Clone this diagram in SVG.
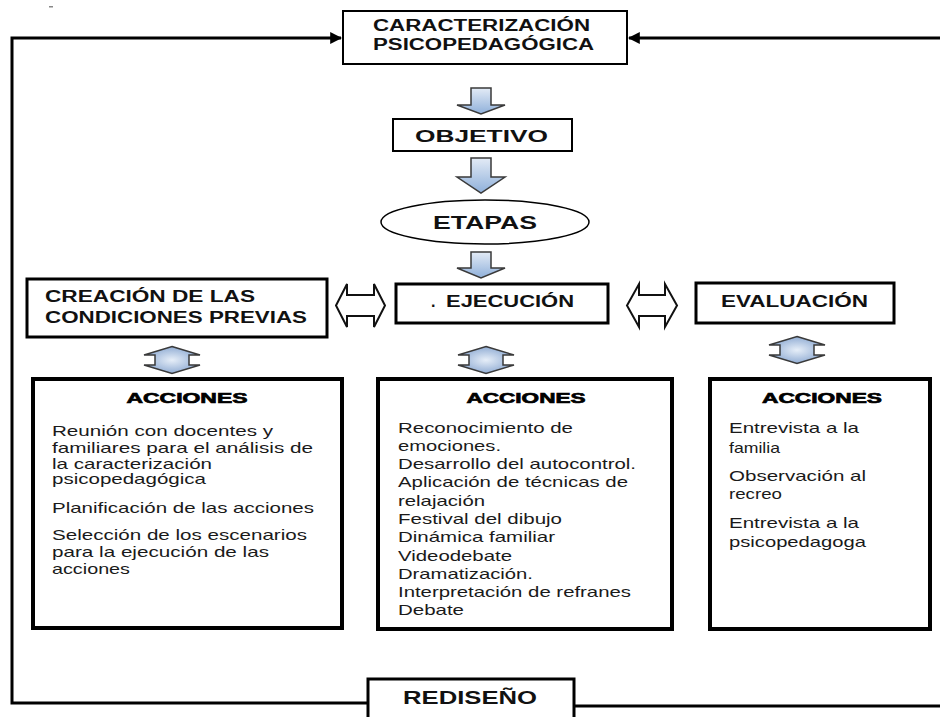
<svg xmlns="http://www.w3.org/2000/svg" width="940" height="717" viewBox="0 0 940 717">
<defs>
<linearGradient id="blue" x1="0" y1="0" x2="0" y2="1">
<stop offset="0" stop-color="#e3ebf6"/>
<stop offset="1" stop-color="#8fb0da"/>
</linearGradient>
<radialGradient id="blue2" cx="0.5" cy="0.5" r="0.6">
<stop offset="0" stop-color="#e6eef8"/>
<stop offset="1" stop-color="#7f9fcc"/>
</radialGradient>
<marker id="ah" viewBox="0 0 10 10" refX="9" refY="5" markerWidth="4" markerHeight="4" orient="auto" markerUnits="strokeWidth">
<path d="M0,0 L10,5 L0,10 Z" fill="#000"/>
</marker>
</defs>
<style>
.box{fill:#fff;stroke:#000}
.t{font-family:"Liberation Sans",Arial,sans-serif;font-weight:bold;fill:#111}
.h{font-family:"Liberation Sans",Arial,sans-serif;font-weight:900;font-size:15px;fill:#000;stroke:#000;stroke-width:0.7;text-anchor:middle}
.l{font-family:"Liberation Sans",Arial,sans-serif;font-size:14.5px;fill:#1a1a1a}
.down{fill:url(#blue);stroke:#3a3a3a;stroke-width:1.5}
.ud{fill:url(#blue2);stroke:#3a3a3a;stroke-width:1.5}
.lr{fill:#fff;stroke:#111;stroke-width:2}
.ln{fill:none;stroke:#000;stroke-width:3}
</style>
<rect width="940" height="717" fill="#fff"/>
<rect x="49" y="6" width="4" height="1.5" fill="#888"/>

<g id="connectors">
<path class="ln" d="M368,703 H12 V38 H341" marker-end="url(#ah)"/>
<path class="ln" d="M574,706 H940"/>
<path class="ln" d="M940,38 H629" marker-end="url(#ah)"/>
<path class="down" d="M471,88 H491 V105 H505 L481,114 L457,105 H471 Z"/>
<path class="down" d="M471,158 H491 V177 H505 L481,193 L457,177 H471 Z"/>
<path class="down" d="M471,252 H491 V268 H505 L481,278 L457,268 H471 Z"/>
<path class="lr" d="M336,305.5 L347,284 V295 H374 V284 L385,305.5 L374,327 V316 H347 V327 Z"/>
<path class="lr" d="M627,305.5 L639,284 V295 H665 V284 L677,305.5 L665,327 V316 H639 V327 Z"/>
<path class="ud" transform="translate(172,360)" d="M0,-13.5 L28,-5 H17 V5 H28 L0,13.5 L-28,5 H-17 V-5 H-28 Z"/>
<path class="ud" transform="translate(486,360)" d="M0,-13.5 L28,-5 H17 V5 H28 L0,13.5 L-28,5 H-17 V-5 H-28 Z"/>
<path class="ud" transform="translate(797,350)" d="M0,-13.5 L28,-5 H17 V5 H28 L0,13.5 L-28,5 H-17 V-5 H-28 Z"/>
</g>

<g id="caracterizacion">
<rect class="box" x="343" y="11" width="284" height="53" stroke-width="2"/>
<text class="t" x="373" y="31" font-size="16" textLength="217" lengthAdjust="spacingAndGlyphs">CARACTERIZACIÓN</text>
<text class="t" x="373" y="50" font-size="16" textLength="221" lengthAdjust="spacingAndGlyphs">PSICOPEDAGÓGICA</text>
</g>

<g id="objetivo">
<rect class="box" x="393" y="119" width="179" height="32" stroke-width="2"/>
<text class="t" x="415" y="142" font-size="17" textLength="133" lengthAdjust="spacingAndGlyphs">OBJETIVO</text>
</g>

<g id="etapas">
<ellipse class="box" cx="485" cy="222" rx="104" ry="22" stroke-width="1.5"/>
<text class="t" x="433" y="229" font-size="18" textLength="104" lengthAdjust="spacingAndGlyphs">ETAPAS</text>
</g>

<g id="creacion">
<rect class="box" x="27" y="279" width="300" height="58" stroke-width="3"/>
<text class="t" x="45" y="302" font-size="16" textLength="210" lengthAdjust="spacingAndGlyphs">CREACIÓN DE LAS</text>
<text class="t" x="45" y="323" font-size="16" textLength="262" lengthAdjust="spacingAndGlyphs">CONDICIONES PREVIAS</text>
</g>

<g id="ejecucion">
<rect class="box" x="396" y="284" width="212" height="39" stroke-width="3"/>
<text class="t" x="431" y="307" font-size="16">.</text>
<text class="t" x="446" y="307" font-size="16" textLength="128" lengthAdjust="spacingAndGlyphs">EJECUCIÓN</text>
</g>

<g id="evaluacion">
<rect class="box" x="696" y="283" width="198" height="40" stroke-width="3"/>
<text class="t" x="721" y="307" font-size="16" textLength="147" lengthAdjust="spacingAndGlyphs">EVALUACIÓN</text>
</g>

<g id="acciones1">
<rect class="box" x="33" y="379" width="309" height="249" stroke-width="4"/>
<text class="h" x="187" y="403" textLength="121" lengthAdjust="spacingAndGlyphs">ACCIONES</text>
<text class="l" x="52" y="436" textLength="221" lengthAdjust="spacingAndGlyphs">Reunión con docentes y</text>
<text class="l" x="52" y="453" textLength="261" lengthAdjust="spacingAndGlyphs">familiares para el análisis de</text>
<text class="l" x="52" y="469" textLength="160" lengthAdjust="spacingAndGlyphs">la caracterización</text>
<text class="l" x="52" y="484" textLength="154" lengthAdjust="spacingAndGlyphs">psicopedagógica</text>
<text class="l" x="52" y="513" textLength="262" lengthAdjust="spacingAndGlyphs">Planificación de las acciones</text>
<text class="l" x="52" y="540" textLength="255" lengthAdjust="spacingAndGlyphs">Selección de los escenarios</text>
<text class="l" x="52" y="557" textLength="217" lengthAdjust="spacingAndGlyphs">para la ejecución de las</text>
<text class="l" x="52" y="574" textLength="78" lengthAdjust="spacingAndGlyphs">acciones</text>
</g>

<g id="acciones2">
<rect class="box" x="378" y="379" width="294" height="250" stroke-width="4"/>
<text class="h" x="526" y="403" textLength="119" lengthAdjust="spacingAndGlyphs">ACCIONES</text>
<text class="l" x="398" y="433" textLength="175" lengthAdjust="spacingAndGlyphs">Reconocimiento de</text>
<text class="l" x="398" y="451" textLength="103" lengthAdjust="spacingAndGlyphs">emociones.</text>
<text class="l" x="398" y="469" textLength="238" lengthAdjust="spacingAndGlyphs">Desarrollo del autocontrol.</text>
<text class="l" x="398" y="487" textLength="230" lengthAdjust="spacingAndGlyphs">Aplicación de técnicas de</text>
<text class="l" x="398" y="506" textLength="87" lengthAdjust="spacingAndGlyphs">relajación</text>
<text class="l" x="398" y="524" textLength="164" lengthAdjust="spacingAndGlyphs">Festival del dibujo</text>
<text class="l" x="398" y="542" textLength="157" lengthAdjust="spacingAndGlyphs">Dinámica familiar</text>
<text class="l" x="398" y="561" textLength="114" lengthAdjust="spacingAndGlyphs">Videodebate</text>
<text class="l" x="398" y="579" textLength="135" lengthAdjust="spacingAndGlyphs">Dramatización.</text>
<text class="l" x="398" y="597" textLength="233" lengthAdjust="spacingAndGlyphs">Interpretación de refranes</text>
<text class="l" x="398" y="615" textLength="66" lengthAdjust="spacingAndGlyphs">Debate</text>
</g>

<g id="acciones3">
<rect class="box" x="710" y="379" width="220" height="250" stroke-width="4"/>
<text class="h" x="822" y="403" textLength="120" lengthAdjust="spacingAndGlyphs">ACCIONES</text>
<text class="l" x="729" y="433" textLength="130" lengthAdjust="spacingAndGlyphs">Entrevista a la</text>
<text class="l" x="729" y="453" textLength="51" lengthAdjust="spacingAndGlyphs">familia</text>
<text class="l" x="729" y="481" textLength="137" lengthAdjust="spacingAndGlyphs">Observación al</text>
<text class="l" x="729" y="499" textLength="53" lengthAdjust="spacingAndGlyphs">recreo</text>
<text class="l" x="729" y="528" textLength="130" lengthAdjust="spacingAndGlyphs">Entrevista a la</text>
<text class="l" x="729" y="547" textLength="137" lengthAdjust="spacingAndGlyphs">psicopedagoga</text>
</g>

<g id="rediseno">
<rect class="box" x="368" y="679" width="206" height="60" stroke-width="3"/>
<text class="t" x="403" y="704" font-size="18" textLength="134" lengthAdjust="spacingAndGlyphs">REDISEÑO</text>
</g>
</svg>
